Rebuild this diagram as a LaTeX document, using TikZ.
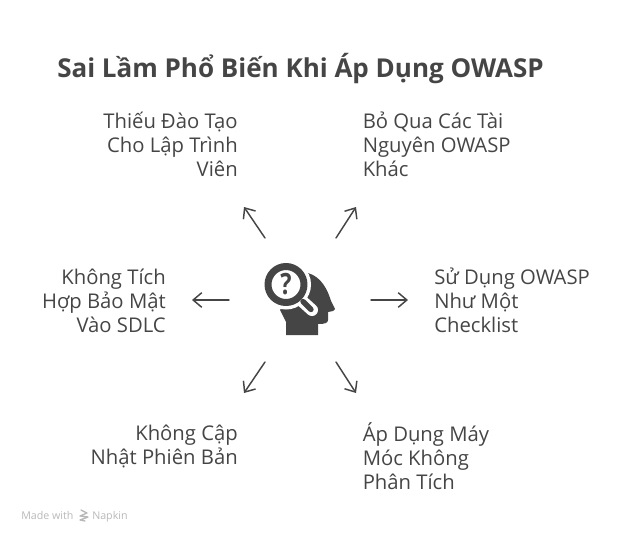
\documentclass[tikz,border=0pt]{standalone}
\usepackage{fontspec}
\setmainfont{Open Sans}
\usepackage{xcolor}
\usetikzlibrary{arrows.meta}
\definecolor{darkgray}{rgb}{0.27,0.27,0.27}
\definecolor{litegray}{rgb}{0.72,0.72,0.72}
\tikzset{
    label text/.style={text=darkgray,font=\fontsize{15.2}{18}\selectfont,inner sep=0pt},
    title text/.style={text=darkgray,font=\fontsize{19.5}{22}\selectfont\bfseries,inner sep=0pt,anchor=west},
    mark text/.style={text=litegray,font=\fontsize{8}{9}\selectfont,inner sep=0pt,anchor=base west},
    spoke/.style={-{Straight Barb[length=6.5pt,width=11pt]},line width=1.1pt,color=darkgray}
}
\begin{document}
\begin{tikzpicture}[line cap=round,line join=round,x=0.75pt,y=-0.75pt]
    \useasboundingbox (0,0) rectangle (624,540);

    \node[title text] (title) at (57,69) {Sai Lầm Phổ Biến Khi Áp Dụng OWASP};

    \node[label text,align=right,anchor=east] (training) at (238,144.5) {Thiếu Đào Tạo\\Cho Lập Trình\\Viên};
    \node[label text,align=left,anchor=west] (resources) at (362.5,144.5) {Bỏ Qua Các Tài\\Nguyên OWASP\\Khác};
    \node[label text,align=right,anchor=east] (sdlc) at (166,300.5) {Không Tích\\Hợp Bảo Mật\\Vào SDLC};
    \node[label text,align=left,anchor=west] (checklist) at (434,300.5) {Sử Dụng OWASP\\Như Một\\Checklist};
    \node[label text,align=right,anchor=east] (update) at (238,446.5) {Không Cập\\Nhật Phiên Bản};
    \node[label text,align=left,anchor=west] (mechanical) at (362.5,456) {Áp Dụng Máy\\Móc Không\\Phân Tích};

    \coordinate (a1) at (265,238);
    \coordinate (b1) at (244,207);
    \coordinate (a2) at (336,238);
    \coordinate (b2) at (356,207);
    \coordinate (a3) at (229,300);
    \coordinate (b3) at (192,300);
    \coordinate (a4) at (371,300);
    \coordinate (b4) at (408,300);
    \coordinate (a5) at (265,362);
    \coordinate (b5) at (244,393);
    \coordinate (a6) at (336,362);
    \coordinate (b6) at (356,393);

    \draw [spoke] (a1) -- (b1);
    \draw [spoke] (a2) -- (b2);
    \draw [spoke] (a3) -- (b3);
    \draw [spoke] (a4) -- (b4);
    \draw [spoke] (a5) -- (b5);
    \draw [spoke] (a6) -- (b6);

    % head
    \fill [darkgray] (308,273) .. controls (322,277) and (328,291) .. (331,301) -- (335,309) .. controls (335,311) and (333,311) .. (328,312) -- (328,320) .. controls (328,323) and (325,324) .. (318,324) -- (318,335) -- (286,335) -- (286,322) -- (280,310) -- cycle;

    % magnifier
    \draw [line width=9pt,color=white] (302,301) -- (312,310);
    \fill [white] (286,284.5) circle (25);
    \draw [line width=5.25pt,color=darkgray] (286,284.5) circle (18);
    \draw [line width=4pt,color=darkgray] (303,301.5) -- (311,309.5);
    \node [text=darkgray,font=\fontsize{22}{22}\selectfont\bfseries,inner sep=0pt,xscale=0.8] (question) at (286,284.5) {?};

    % watermark
    \node[mark text] (made) at (21,519) {Made with};
    \node[mark text] (napkin) at (92,519) {Napkin};
    \draw [line width=1pt,color=litegray] (81,510) -- (87,513) -- (80,516) -- (88,517) -- (80,520) -- (85,521);
\end{tikzpicture}
\end{document}
